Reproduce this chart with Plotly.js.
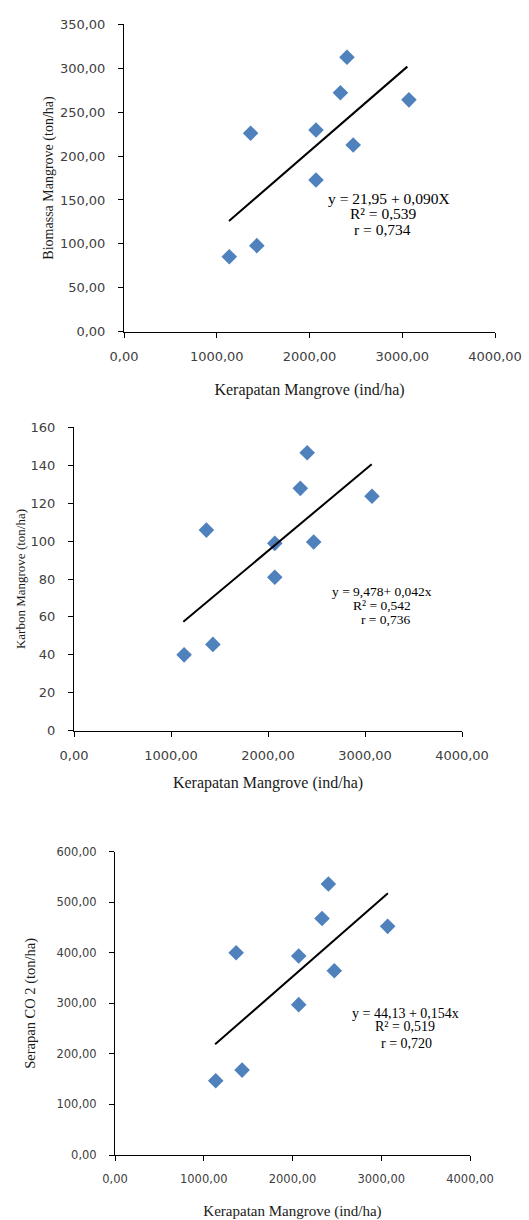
<!DOCTYPE html>
<html>
<head>
<meta charset="utf-8">
<script src="https://cdn.plot.ly/plotly-3.0.1.min.js"></script>
<style>
  html, body { margin: 0; padding: 0; background: #fff; }
  #chart { width: 529px; height: 1220px; }
</style>
</head>
<body>
<div id="chart"></div>
<script>
// ---- Data ----
const density = [1135, 1432, 1365, 2070, 2070, 2333, 2404, 2471, 3072];      // Kerapatan Mangrove (ind/ha)
const biomass = [85.4, 98, 226, 229.7, 172.8, 272, 312.5, 212.6, 264];        // Biomassa Mangrove (ton/ha)
const carbon  = [40, 45.5, 105.8, 98.8, 80.9, 127.8, 146.6, 99.5, 123.6];     // Karbon Mangrove (ton/ha)
const co2     = [147, 168, 400, 393.6, 297.4, 468, 536, 364.6, 452.3];        // Serapan CO 2 (ton/ha)

const trend1X = [1132, 3055], trend1Y = [126, 301.8];
const trend2X = [1127, 3069], trend2Y = [57.5, 140.5];
const trend3X = [1128, 3075], trend3Y = [219, 517.6];

const eq1 = ["y = 21,95 + 0,090X", "R² = 0,539", "r = 0,734"];
const eq2 = ["y = 9,478+ 0,042x", "R² = 0,542", "r = 0,736"];
const eq3 = ["y = 44,13 + 0,154x", "R² = 0,519", "r = 0,720"];
const eq1Pos = {x: [2857, 2800, 2792], y: [151.1, 134.4, 115.8]};
const eq2Pos = {x: [3180, 3172, 3211], y: [73.2, 65.8, 58.4]};
const eq3Pos = {x: [3271, 3271, 3290], y: [280.9, 253.8, 221.5]};

const xTitle = "Kerapatan Mangrove (ind/ha)";
const yTitles = ["Biomassa Mangrove (ton/ha)", "Karbon Mangrove (ton/ha)", "Serapan CO 2 (ton/ha)"];

// ---- Styling ----
const markerColor = "#4F81BD";
const serif = "Liberation Serif, Times New Roman, serif";
const sans = "DejaVu Sans, Tahoma, sans-serif";
const W = 529, H = 1220;

function scatter(y, xa, ya) {
  return {x: density, y: y, xaxis: xa, yaxis: ya, type: "scatter", mode: "markers",
    marker: {symbol: "diamond", size: 12, color: markerColor}, hoverinfo: "x+y", showlegend: false};
}
function trend(x, y, xa, ya) {
  return {x: x, y: y, xaxis: xa, yaxis: ya, type: "scatter", mode: "lines",
    line: {color: "#000", width: 2}, hoverinfo: "skip", showlegend: false};
}

const data = [
  scatter(biomass, "x", "y"), trend(trend1X, trend1Y, "x", "y"),
  scatter(carbon, "x2", "y2"), trend(trend2X, trend2Y, "x2", "y2"),
  scatter(co2, "x3", "y3"), trend(trend3X, trend3Y, "x3", "y3")
];

function xAxis(px0, px1, anchor, tickSize, titleSize, standoff) {
  return {domain: [px0 / W, px1 / W], anchor: anchor, range: [0, 4000],
    tickvals: [0, 1000, 2000, 3000, 4000], tickformat: ".2f",
    showline: true, linecolor: "#000", linewidth: 1, ticks: "outside", ticklen: 5, tickcolor: "#000",
    showgrid: false, zeroline: false, ticklabelstandoff: 8,
    tickfont: {family: sans, size: tickSize, color: "#404040"},
    title: {text: xTitle, font: {family: serif, size: titleSize, color: "#1a1a1a"}, standoff: standoff},
    automargin: false, fixedrange: true};
}
function yAxis(py0, py1, anchor, range, dtick, fmt, tickSize, title, titleSize, standoff) {
  return {domain: [1 - py1 / H, 1 - py0 / H], anchor: anchor, range: range, dtick: dtick, tick0: 0,
    tickformat: fmt, showline: true, linecolor: "#000", linewidth: 1, ticks: "outside", ticklen: 5,
    tickcolor: "#000", showgrid: false, zeroline: false, ticklabelstandoff: 10,
    tickfont: {family: sans, size: tickSize, color: "#404040"},
    title: {text: title, font: {family: serif, size: titleSize, color: "#1a1a1a"}, standoff: standoff},
    automargin: false, fixedrange: true};
}

function eqAnn(lines, pos, xr, yr, size) {
  return lines.map((t, i) => ({text: t, x: pos.x[i], y: pos.y[i], xref: xr, yref: yr,
    xanchor: "center", yanchor: "middle", showarrow: false,
    font: {family: serif, size: size, color: "#000"}}));
}

const layout = {
  width: W, height: H, margin: {l: 0, r: 0, t: 0, b: 0},
  paper_bgcolor: "#fff", plot_bgcolor: "#fff",
  separators: ",.", showlegend: false,
  xaxis:  xAxis(124, 495, "y", 13, 16, 20),
  yaxis:  yAxis(24.3, 331.7, "x", [0, 350], 50, ".2f", 13, yTitles[0], 14, 3),
  xaxis2: xAxis(74, 462, "y2", 13, 16, 14),
  yaxis2: yAxis(427.3, 730.7, "x2", [0, 160], 20, "d", 13, yTitles[1], 13, 2),
  xaxis3: xAxis(115, 470, "y3", 11.5, 15, 21),
  yaxis3: yAxis(851.7, 1155, "x3", [0, 600], 100, ".2f", 11.5, yTitles[2], 14.5, 17),
  annotations: [].concat(
    eqAnn(eq1, eq1Pos, "x", "y", 15.5),
    eqAnn(eq2, eq2Pos, "x2", "y2", 13.5),
    eqAnn(eq3, eq3Pos, "x3", "y3", 14)
  )
};

Plotly.newPlot("chart", data, layout, {displayModeBar: false, responsive: false});
</script>
</body>
</html>
